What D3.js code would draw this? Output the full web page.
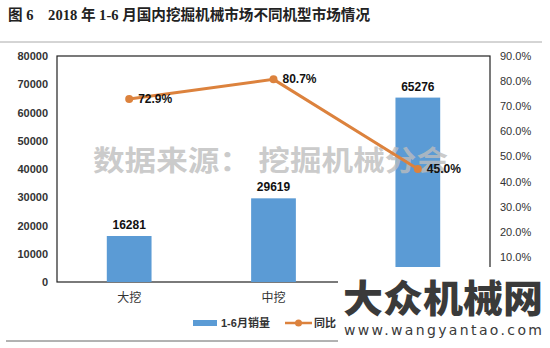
<!DOCTYPE html>
<html><head><meta charset="utf-8">
<script src="https://cdn.jsdelivr.net/npm/d3@7"></script>
<style>body{margin:0;background:#fff}svg{display:block}</style>
</head><body>
<script>
const categories = ["大挖", "中挖", "小挖"];
const sales = [16281, 29619, 65276];
const yoy = [72.9, 80.7, 45.0];
const leftTicks = [0, 10000, 20000, 30000, 40000, 50000, 60000, 70000, 80000];
const rightTicks = [10, 20, 30, 40, 50, 60, 70, 80, 90];
const visibleCategoryLabels = ["大挖", "中挖"];
const seriesNames = ["1-6月销量", "同比"];

const W = 550, H = 348;
const svg = d3.select("body").append("svg").attr("width", W).attr("height", H);
const plot = {l: 57, r: 490, t: 56, b: 282};
const sansB = "Arial, 'Liberation Sans', 'Noto Sans CJK SC', sans-serif";
const blue = "#5B9BD5", orange = "#DC823D";

// title
svg.append("text").attr("x", 8).attr("y", 20)
  .attr("font-family", "'Liberation Serif', 'Noto Sans CJK SC', serif")
  .attr("font-size", 15).attr("font-weight", "bold").attr("fill", "#222")
  .attr("textLength", 362).attr("lengthAdjust", "spacingAndGlyphs")
  .text("图 6\u00a0\u00a0\u00a0 2018 年 1-6 月国内挖掘机械市场不同机型市场情况");

// frame lines
svg.append("line").attr("x1", 0).attr("x2", 542).attr("y1", 42).attr("y2", 42).attr("stroke", "#aaa");
svg.append("line").attr("x1", 6).attr("x2", 545).attr("y1", 341).attr("y2", 341).attr("stroke", "#666");

const x = d3.scaleBand().domain(categories).range([plot.l, plot.r]).paddingInner(0.69).paddingOuter(0.345);
const y = d3.scaleLinear().domain([0, 80000]).range([plot.b, plot.t]);
const y2 = d3.scaleLinear().domain([0, 90]).range([plot.b, plot.t]);

// plot box
svg.append("rect").attr("x", plot.l).attr("y", plot.t).attr("width", plot.r - plot.l).attr("height", plot.b - plot.t)
  .attr("fill", "none").attr("stroke", "#222").attr("stroke-width", 1.2);

// left axis
const la = svg.append("g").attr("transform", `translate(${plot.l},0)`)
  .call(d3.axisLeft(y).tickValues(leftTicks).tickSize(0).tickPadding(9).tickFormat(d3.format("d")));
la.select(".domain").remove();
la.selectAll("text").attr("font-family", sansB).attr("font-size", 11).attr("font-weight", "bold").attr("fill", "#333");

// right axis (0.0% is covered by the site watermark in the reference)
const ra = svg.append("g").attr("transform", `translate(${plot.r},0)`)
  .call(d3.axisRight(y2).tickValues(rightTicks).tickSize(0).tickPadding(10).tickFormat(d => d.toFixed(1) + "%"));
ra.select(".domain").remove();
ra.selectAll("text").attr("font-family", sansB).attr("font-size", 11).attr("fill", "#333");

// x axis labels (third label covered by the site watermark)
const xa = svg.append("g").attr("transform", `translate(0,${plot.b})`)
  .call(d3.axisBottom(x).tickSize(0).tickPadding(11).tickFormat(d => visibleCategoryLabels.includes(d) ? d : ""));
xa.select(".domain").remove();
xa.selectAll("text").attr("font-family", "'Noto Sans CJK SC', sans-serif").attr("font-size", 12).attr("fill", "#333");

// bars
svg.selectAll("rect.bar").data(sales).join("rect").attr("class", "bar")
  .attr("x", (d, i) => x(categories[i])).attr("width", x.bandwidth())
  .attr("y", d => y(d)).attr("height", d => plot.b - y(d)).attr("fill", blue);

// bar labels
svg.selectAll("text.bl").data(sales).join("text").attr("class", "bl")
  .attr("x", (d, i) => x(categories[i]) + x.bandwidth() / 2).attr("y", d => y(d) - 7)
  .attr("text-anchor", "middle").attr("font-family", sansB).attr("font-size", 12).attr("font-weight", "bold").attr("fill", "#111")
  .text(d => d);

// watermark
svg.append("text").attr("x", 93).attr("y", 171)
  .attr("font-family", "'Noto Sans CJK SC', sans-serif").attr("font-size", 28).attr("font-weight", "bold")
  .attr("fill", "#bdbdbd").attr("fill-opacity", 0.8).attr("textLength", 355).attr("lengthAdjust", "spacingAndGlyphs")
  .text("数据来源：  挖掘机械分会");

// line
const cx = (d, i) => x(categories[i]) + x.bandwidth() / 2;
svg.append("path").datum(yoy)
  .attr("d", d3.line().x(cx).y(d => y2(d)))
  .attr("fill", "none").attr("stroke", orange).attr("stroke-width", 3);
svg.selectAll("circle.pt").data(yoy).join("circle").attr("class", "pt")
  .attr("cx", cx).attr("cy", d => y2(d)).attr("r", 4).attr("fill", orange);
svg.selectAll("text.pl").data(yoy).join("text").attr("class", "pl")
  .attr("x", (d, i) => cx(d, i) + 9).attr("y", d => y2(d) + 4)
  .attr("font-family", sansB).attr("font-size", 12).attr("font-weight", "bold").attr("fill", "#111")
  .text(d => d.toFixed(1) + "%");

// legend
const lg = svg.append("g");
lg.append("rect").attr("x", 193).attr("y", 320).attr("width", 24).attr("height", 6).attr("fill", blue);
lg.append("text").attr("x", 221).attr("y", 327).attr("font-family", sansB).attr("font-size", 11).attr("font-weight", "bold").attr("fill", "#333").text(seriesNames[0]);
lg.append("line").attr("x1", 285).attr("x2", 312).attr("y1", 323).attr("y2", 323).attr("stroke", orange).attr("stroke-width", 2.5);
lg.append("circle").attr("cx", 298.5).attr("cy", 323).attr("r", 3.5).attr("fill", orange);
lg.append("text").attr("x", 314).attr("y", 327).attr("font-family", sansB).attr("font-size", 11).attr("font-weight", "bold").attr("fill", "#333").text(seriesNames[1]);

// site watermark
svg.append("rect").attr("x", 338).attr("y", 267).attr("width", W - 338).attr("height", H - 267).attr("fill", "#fff");
svg.append("text").attr("x", 343).attr("y", 312)
  .attr("font-family", "'Noto Sans CJK SC', sans-serif").attr("font-size", 38).attr("font-weight", 900)
  .attr("fill", "#3a3a3a").attr("textLength", 200).attr("lengthAdjust", "spacingAndGlyphs").text("大众机械网");
svg.append("text").attr("x", 344).attr("y", 335)
  .attr("font-family", "'DejaVu Sans', sans-serif").attr("font-size", 14)
  .attr("fill", "#3a3a3a").attr("textLength", 198).attr("lengthAdjust", "spacing").text("www.wangyantao.com");
</script>
</body></html>
